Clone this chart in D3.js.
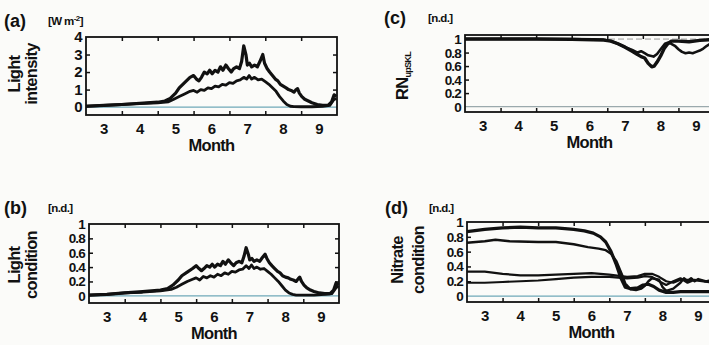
<!DOCTYPE html>
<html>
<head>
<meta charset="utf-8">
<script src="https://cdn.jsdelivr.net/npm/d3@7"></script>
<style>
  body { margin: 0; background: #fbfbf9; }
  svg { display: block; }
  text { font-family: "Liberation Sans", Arial, sans-serif; font-weight: bold; fill: #111; }
  .tick-label { font-size: 15px; letter-spacing: -0.6px; }
  .frac-label { font-size: 13.5px; letter-spacing: -0.8px; }
  .axisText { font-size: 16.5px; letter-spacing: -0.7px; }
  .panelTag { font-size: 18px; }
  .unit { font-size: 11.5px; letter-spacing: -0.6px; }
</style>
</head>
<body>
<div class="chart"></div>
<script>
var svgWidth = 709;
var svgHeight = 345;

// month tick positions (start of month) and labels (mid month)
var monthTicks = [4, 5, 6, 7, 8, 9];
var monthLabels = [3, 4, 5, 6, 7, 8, 9];

// (a) light intensity [W m-2]
var intensityUpper = [[3.0,0.05],[3.5,0.1],[4.0,0.15],[4.5,0.22],[5.0,0.28],[5.2,0.35],[5.35,0.5],[5.5,0.8],[5.6,1.1],[5.75,1.4],[5.9,1.7],[6.0,1.8],[6.08,1.6],[6.15,1.5],[6.22,1.7],[6.3,2.0],[6.38,1.9],[6.45,2.1],[6.52,1.9],[6.6,2.1],[6.68,2.0],[6.75,2.3],[6.82,2.1],[6.9,2.4],[6.97,2.2],[7.05,2.0],[7.12,2.2],[7.2,2.3],[7.28,2.2],[7.34,2.6],[7.4,3.5],[7.46,3.0],[7.5,2.4],[7.56,2.5],[7.62,2.3],[7.7,2.4],[7.78,2.3],[7.85,2.6],[7.93,3.0],[7.98,2.5],[8.05,2.2],[8.12,2.0],[8.2,1.8],[8.28,1.6],[8.35,1.5],[8.42,1.3],[8.5,1.2],[8.58,1.1],[8.65,1.0],[8.72,0.95],[8.8,0.85],[8.86,1.0],[8.9,1.05],[8.95,0.8],[9.02,0.6],[9.1,0.45],[9.2,0.35],[9.3,0.25],[9.45,0.15],[9.6,0.1],[9.75,0.1],[9.85,0.3],[9.92,0.7],[9.98,0.6]];
var intensityLower = [[3.0,0.05],[3.5,0.1],[4.0,0.15],[4.5,0.2],[5.0,0.25],[5.3,0.3],[5.45,0.45],[5.6,0.6],[5.75,0.75],[5.9,0.9],[6.0,0.95],[6.1,0.85],[6.2,1.0],[6.3,0.95],[6.4,1.1],[6.5,1.05],[6.6,1.2],[6.7,1.15],[6.8,1.3],[6.9,1.25],[7.0,1.4],[7.1,1.35],[7.2,1.5],[7.3,1.55],[7.4,1.7],[7.48,1.6],[7.55,1.8],[7.62,1.6],[7.7,1.7],[7.8,1.55],[7.9,1.6],[8.0,1.45],[8.1,1.3],[8.2,1.1],[8.3,0.9],[8.4,0.6],[8.5,0.35],[8.6,0.15],[8.7,0.05],[8.8,0.03],[9.0,0.02],[9.3,0.02],[9.6,0.05],[9.8,0.1],[9.9,0.4],[9.98,0.5]];

// (b) light condition [n.d.]
var conditionUpper = [[3.0,0.01],[3.5,0.02],[4.0,0.04],[4.5,0.06],[5.0,0.08],[5.2,0.1],[5.35,0.15],[5.5,0.22],[5.6,0.28],[5.75,0.33],[5.9,0.38],[6.0,0.42],[6.08,0.38],[6.15,0.35],[6.22,0.38],[6.3,0.42],[6.38,0.4],[6.45,0.44],[6.52,0.4],[6.6,0.44],[6.68,0.42],[6.75,0.48],[6.82,0.44],[6.9,0.5],[6.97,0.46],[7.05,0.42],[7.12,0.46],[7.2,0.48],[7.28,0.46],[7.34,0.55],[7.4,0.67],[7.46,0.58],[7.5,0.5],[7.56,0.52],[7.62,0.48],[7.7,0.5],[7.78,0.48],[7.85,0.53],[7.93,0.58],[7.98,0.52],[8.05,0.46],[8.12,0.42],[8.2,0.38],[8.28,0.34],[8.35,0.32],[8.42,0.28],[8.5,0.26],[8.58,0.25],[8.65,0.23],[8.72,0.22],[8.8,0.2],[8.86,0.24],[8.9,0.26],[8.95,0.2],[9.02,0.15],[9.1,0.11],[9.2,0.08],[9.3,0.06],[9.45,0.04],[9.6,0.03],[9.75,0.03],[9.85,0.08],[9.92,0.18],[9.98,0.15]];
var conditionLower = [[3.0,0.01],[3.5,0.02],[4.0,0.04],[4.5,0.05],[5.0,0.07],[5.3,0.09],[5.45,0.12],[5.6,0.16],[5.75,0.2],[5.9,0.23],[6.0,0.25],[6.1,0.22],[6.2,0.27],[6.3,0.25],[6.4,0.28],[6.5,0.26],[6.6,0.3],[6.7,0.28],[6.8,0.32],[6.9,0.3],[7.0,0.34],[7.1,0.33],[7.2,0.36],[7.3,0.37],[7.4,0.42],[7.48,0.38],[7.55,0.43],[7.62,0.38],[7.7,0.4],[7.8,0.37],[7.9,0.38],[8.0,0.34],[8.1,0.3],[8.2,0.25],[8.3,0.2],[8.4,0.14],[8.5,0.08],[8.6,0.04],[8.7,0.02],[8.8,0.01],[9.0,0.01],[9.3,0.01],[9.6,0.02],[9.8,0.03],[9.9,0.1],[9.98,0.14]];

// (c) RN_upSKL [n.d.]
var rnA = [[3.0,1.0],[4.0,1.0],[5.0,1.0],[6.0,0.995],[6.6,0.99],[6.9,0.985],[7.1,0.97],[7.3,0.93],[7.5,0.88],[7.7,0.82],[7.85,0.77],[7.95,0.74],[8.05,0.72],[8.15,0.64],[8.25,0.59],[8.32,0.6],[8.4,0.66],[8.5,0.75],[8.6,0.86],[8.7,0.93],[8.8,0.97],[9.0,0.97],[9.3,0.96],[9.6,0.98],[9.9,0.99]];
var rnB = [[3.0,1.0],[6.0,1.0],[6.9,0.99],[7.1,0.97],[7.3,0.93],[7.5,0.88],[7.7,0.84],[7.85,0.8],[7.95,0.82],[8.05,0.79],[8.15,0.76],[8.3,0.74],[8.4,0.78],[8.5,0.85],[8.62,0.93],[8.72,0.95],[8.8,0.93],[8.9,0.9],[9.0,0.85],[9.1,0.81],[9.2,0.79],[9.3,0.8],[9.4,0.79],[9.5,0.81],[9.6,0.83],[9.7,0.86],[9.8,0.9],[9.9,0.93]];

// (d) nitrate condition [n.d.]
var nitrate1 = [[3.0,0.87],[3.5,0.9],[4.0,0.92],[4.5,0.93],[5.0,0.92],[5.5,0.92],[6.0,0.9],[6.3,0.88],[6.55,0.85],[6.75,0.8],[6.9,0.73],[7.05,0.6],[7.2,0.42],[7.32,0.25],[7.45,0.12],[7.6,0.1],[7.8,0.11],[7.95,0.15],[8.1,0.16],[8.25,0.13],[8.4,0.08],[8.6,0.05],[8.8,0.05],[9.0,0.06],[9.5,0.06],[9.98,0.06]];
var nitrate2 = [[3.0,0.72],[3.5,0.74],[3.8,0.76],[4.2,0.74],[5.0,0.73],[5.5,0.73],[6.0,0.7],[6.4,0.66],[6.7,0.64],[6.9,0.62],[7.05,0.57],[7.2,0.47],[7.35,0.3],[7.45,0.17],[7.6,0.09],[7.75,0.08],[7.9,0.1],[8.0,0.14],[8.1,0.2],[8.2,0.24],[8.4,0.22],[8.5,0.12],[8.6,0.07],[8.8,0.1],[9.0,0.18],[9.1,0.24],[9.2,0.2],[9.3,0.24],[9.4,0.2],[9.5,0.23],[9.7,0.2],[9.98,0.2]];
var nitrate3 = [[3.0,0.33],[3.5,0.33],[4.0,0.3],[4.5,0.28],[5.0,0.28],[5.5,0.29],[6.0,0.3],[6.5,0.31],[7.0,0.29],[7.5,0.26],[7.8,0.27],[8.0,0.3],[8.2,0.3],[8.4,0.26],[8.6,0.2],[8.8,0.18],[9.0,0.22],[9.3,0.22],[9.6,0.2],[9.98,0.18]];
var nitrate4 = [[3.0,0.18],[3.5,0.18],[4.0,0.19],[4.5,0.2],[5.0,0.21],[5.5,0.23],[6.0,0.25],[6.5,0.26],[7.0,0.26],[7.5,0.24],[7.8,0.25],[8.0,0.27],[8.2,0.26],[8.4,0.2],[8.6,0.15],[8.8,0.2],[9.0,0.24],[9.2,0.18],[9.4,0.22],[9.7,0.2],[9.98,0.22]];

var svg = d3.select(".chart")
  .append("svg")
  .attr("width", svgWidth)
  .attr("height", svgHeight);

function drawPanel(p) {
  var xScale = d3.scaleLinear().domain([3, 10]).range([p.left, p.right]);
  var yScale = d3.scaleLinear().domain(p.yDomain).range([p.bottom, p.top]);
  var g = svg.append("g");

  // zero reference line (light blue)
  g.append("line")
    .attr("x1", xScale(3)).attr("x2", xScale(10))
    .attr("y1", yScale(0)).attr("y2", yScale(0))
    .attr("stroke", p.zeroColor || "#6fa9b8").attr("stroke-width", 1.2);

  if (p.oneLine) {
    g.append("line")
      .attr("x1", xScale(3)).attr("x2", xScale(10))
      .attr("y1", yScale(1)).attr("y2", yScale(1))
      .attr("stroke", "#999").attr("stroke-width", 1)
      .attr("stroke-dasharray", "6,3");
  }

  var line = d3.line()
    .x(function(d) { return xScale(d[0]); })
    .y(function(d) { return yScale(d[1]); });

  p.series.forEach(function(s) {
    g.append("path")
      .datum(s.data)
      .attr("d", line)
      .attr("fill", "none")
      .attr("stroke", "#111")
      .attr("stroke-width", s.width)
      .attr("stroke-linejoin", "round");
  });

  // frame
  g.append("rect")
    .attr("x", p.left).attr("y", p.top)
    .attr("width", p.right - p.left).attr("height", p.bottom - p.top)
    .attr("fill", "none").attr("stroke", "#111").attr("stroke-width", 1.8);

  // inward month ticks top and bottom
  var bottomAxis = d3.axisTop(xScale).tickValues(monthTicks).tickSize(4).tickFormat("");
  var topAxis = d3.axisBottom(xScale).tickValues(monthTicks).tickSize(4).tickFormat("");
  g.append("g").attr("transform", "translate(0," + p.bottom + ")").call(bottomAxis);
  g.append("g").attr("transform", "translate(0," + p.top + ")").call(topAxis);

  // inward value ticks left and right
  var leftAxis = d3.axisRight(yScale).tickValues(p.yTicks).tickSize(4).tickFormat("");
  var rightAxis = d3.axisLeft(yScale).tickValues(p.yTicks).tickSize(4).tickFormat("");
  g.append("g").attr("transform", "translate(" + p.left + ",0)").call(leftAxis);
  g.append("g").attr("transform", "translate(" + p.right + ",0)").call(rightAxis);
  g.selectAll(".domain").remove();
  g.selectAll(".tick line").attr("stroke", "#111").attr("stroke-width", 1.5);

  // value labels
  g.selectAll(".ylab")
    .data(p.yLabels)
    .enter()
    .append("text")
    .attr("class", p.labelClass)
    .attr("x", p.left - 4)
    .attr("y", function(d) { return yScale(d) + 5; })
    .attr("text-anchor", "end")
    .text(function(d) { return d3.format("~g")(d); });

  // month labels
  g.selectAll(".xlab")
    .data(monthLabels)
    .enter()
    .append("text")
    .attr("class", "tick-label")
    .attr("x", function(d) { return xScale(d + 0.5); })
    .attr("y", p.bottom + 19)
    .attr("text-anchor", "middle")
    .text(function(d) { return d; });

  g.append("text")
    .attr("class", "axisText")
    .attr("x", xScale(6.5))
    .attr("y", p.bottom + 36)
    .attr("text-anchor", "middle")
    .text("Month");

  g.append("text")
    .attr("class", "panelTag")
    .attr("x", p.tagX)
    .attr("y", p.tagY)
    .text(p.tag);

  var unit = g.append("text")
    .attr("class", "unit")
    .attr("x", p.tagX + 44)
    .attr("y", p.tagY - 2);
  p.unit(unit);

  p.ylabel(g);
}

// two line y axis title
function twoLineTitle(lines, x1, x2, cy) {
  return function(g) {
    g.append("text").attr("class", "axisText")
      .attr("transform", "translate(" + x1 + "," + cy + ") rotate(-90)")
      .attr("text-anchor", "middle").text(lines[0]);
    g.append("text").attr("class", "axisText")
      .attr("transform", "translate(" + x2 + "," + cy + ") rotate(-90)")
      .attr("text-anchor", "middle").text(lines[1]);
  };
}

var fracTicks = [0.2, 0.4, 0.6, 0.8];
var fracLabels = [0, 0.2, 0.4, 0.6, 0.8, 1];

drawPanel({
  tag: "(a)", tagX: 4, tagY: 27,
  left: 86, right: 337, top: 37, bottom: 115,
  yDomain: [-0.45, 4], yTicks: [1, 2, 3], yLabels: [0, 1, 2, 3, 4], labelClass: "tick-label",
  series: [{ data: intensityUpper, width: 3.2 }, { data: intensityLower, width: 2.8 }],
  unit: function(t) {
    t.append("tspan").text("[W m");
    t.append("tspan").attr("dy", -4).attr("font-size", "8px").text("-2");
    t.append("tspan").attr("dy", 4).text("]");
  },
  ylabel: twoLineTitle(["Light", "intensity"], 20, 37, 74)
});

drawPanel({
  tag: "(b)", tagX: 4, tagY: 214,
  left: 89, right: 339, top: 224, bottom: 303,
  yDomain: [-0.1, 1], yTicks: fracTicks, yLabels: fracLabels, labelClass: "frac-label",
  series: [{ data: conditionUpper, width: 3.2 }, { data: conditionLower, width: 2.8 }],
  unit: function(t) { t.text("[n.d.]"); },
  ylabel: twoLineTitle(["Light", "condition"], 20, 37, 265)
});

drawPanel({
  tag: "(c)", tagX: 384, tagY: 24,
  left: 465, right: 714, top: 35, bottom: 112,
  yDomain: [-0.08, 1.06], yTicks: fracTicks, yLabels: fracLabels, labelClass: "frac-label",
  oneLine: true, zeroColor: "#9aa9ad",
  series: [{ data: rnA, width: 3.4 }, { data: rnB, width: 2.6 }],
  unit: function(t) { t.text("[n.d.]"); },
  ylabel: function(g) {
    var t = g.append("text").attr("class", "axisText")
      .attr("transform", "translate(408,76) rotate(-90)")
      .attr("text-anchor", "middle");
    t.append("tspan").text("RN");
    t.append("tspan").attr("dy", 3).attr("font-size", "9px").text("upSKL");
  }
});

drawPanel({
  tag: "(d)", tagX: 385, tagY: 214,
  left: 467, right: 716, top: 222, bottom: 302,
  yDomain: [-0.08, 1], yTicks: fracTicks, yLabels: fracLabels, labelClass: "frac-label",
  series: [{ data: nitrate1, width: 3.2 }, { data: nitrate2, width: 2.4 },
           { data: nitrate3, width: 2.2 }, { data: nitrate4, width: 2.2 }],
  unit: function(t) { t.text("[n.d.]"); },
  ylabel: twoLineTitle(["Nitrate", "condition"], 403, 424, 260)
});
</script>
</body>
</html>
